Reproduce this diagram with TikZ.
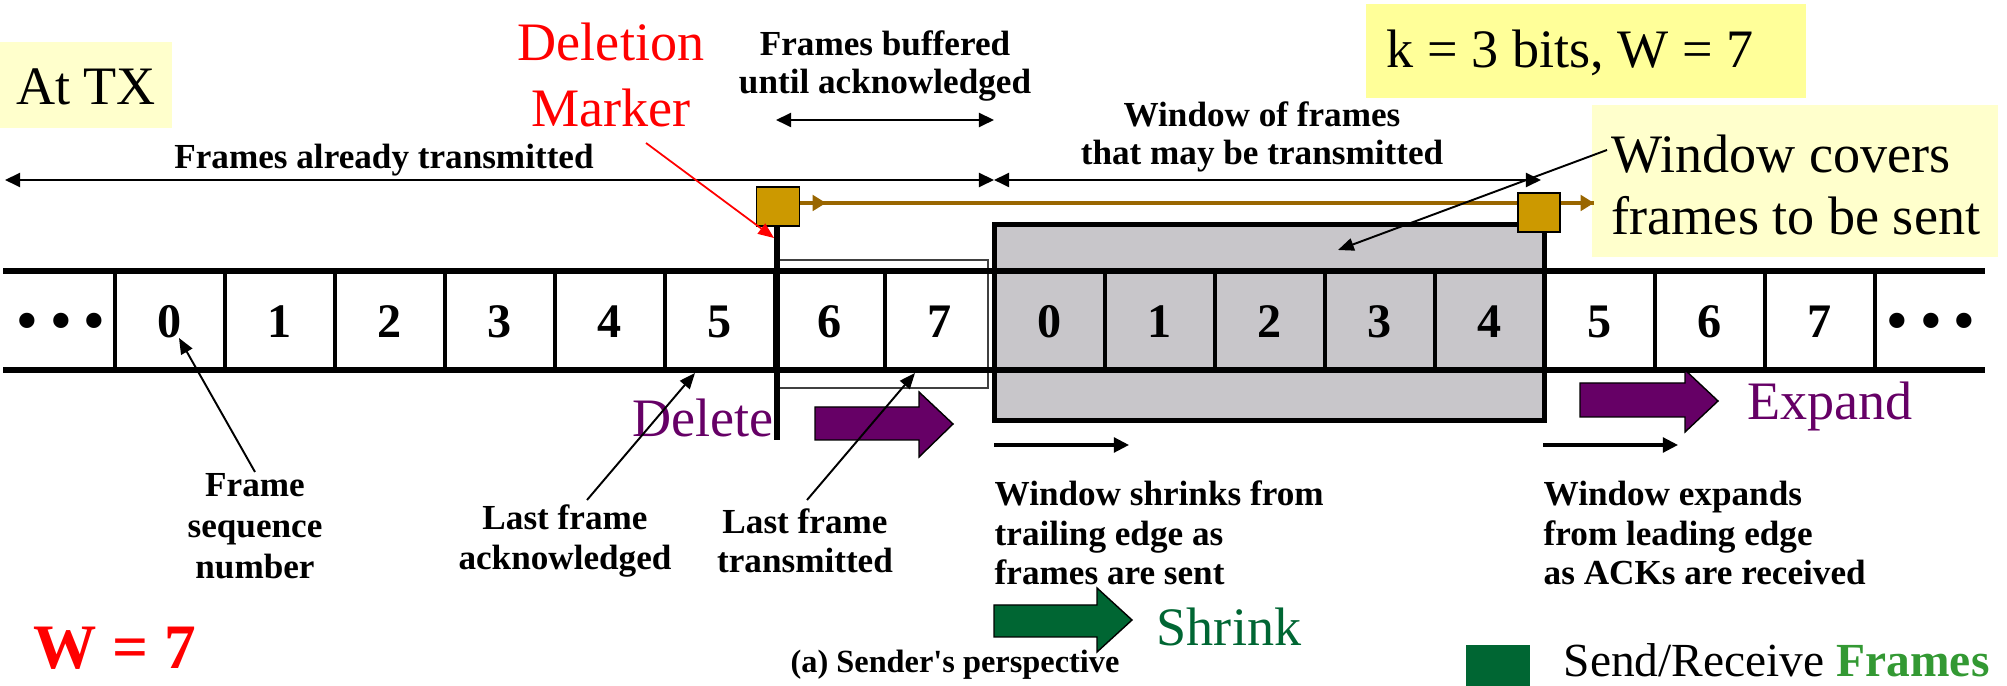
\documentclass[tikz,border=0pt]{standalone}
\usepackage{fontspec}
\setmainfont{Liberation Serif}
\usetikzlibrary{arrows.meta}
\definecolor{lyel}{HTML}{FFFFCC}
\definecolor{kyel}{HTML}{FFFF99}
\definecolor{goldsq}{HTML}{CC9900}
\definecolor{brownln}{HTML}{996600}
\definecolor{purp}{HTML}{660066}
\definecolor{dgreen}{HTML}{006633}
\definecolor{lgreen}{HTML}{339933}
\definecolor{wgray}{HTML}{C8C6CA}
\tikzset{
  bigtxt/.style={font=\fontsize{15.4}{18.5}\selectfont, inner sep=0pt},
  lbl/.style={font=\bfseries\fontsize{10}{11.2}\selectfont, align=center, inner sep=0pt},
  digit/.style={font=\bfseries\fontsize{13.7}{16}\selectfont, inner sep=0pt},
  strip/.style={line width=1.45pt},
  divider/.style={line width=0.9pt},
  tipb/.style={{Triangle[length=4.3pt,width=4pt]}-{Triangle[length=4.3pt,width=4pt]}},
  dbl/.style={line width=0.6pt, tipb},
  ptr/.style={line width=0.55pt, -{Triangle[length=4.5pt,width=3.6pt]}},
  sarr/.style={line width=0.9pt, -{Triangle[length=4.3pt,width=4.2pt]}},
  gsq/.style={draw=black, line width=0.5pt, fill=goldsq, inner sep=0pt},
  brownline/.style={draw=brownln, line width=1.4pt},
  blockarrow/.style={draw=black, line width=0.4pt},
  dotsty/.style={font=\bfseries\fontsize{16}{18}\selectfont, inner sep=0pt},
}
\begin{document}
\begin{tikzpicture}[x=0.01cm,y=-0.01cm]
\useasboundingbox (0,0) rectangle (2007,686);

% yellow boxes
\node[fill=lyel, minimum width=1.72cm, minimum height=0.86cm, inner sep=0pt] (atxbox) at (86,85) {};
\node[bigtxt] (atx) at (86,87) {At TX};
\node[fill=kyel, minimum width=4.4cm, minimum height=0.94cm, inner sep=0pt] (kbox) at (1586,51) {};
\node[bigtxt, anchor=west] (ktxt) at (1386,53) {k = 3 bits, W = 7};
\node[fill=lyel, minimum width=4.06cm, minimum height=1.52cm, inner sep=0pt] (wcbox) at (1795,181) {};
\node[bigtxt, anchor=west, align=left, font=\fontsize{15.4}{17.6}\selectfont] (wctxt) at (1611,185) {Window covers\\frames to be sent};

% window box and buffered rectangle
\node[draw, line width=1.45pt, fill=wgray, minimum width=5.5cm, minimum height=1.96cm, inner sep=0pt, anchor=north west] (win) at (992,222) {};
\node[draw=black!75, line width=0.45pt, minimum width=2.11cm, minimum height=1.28cm, inner sep=0pt, anchor=north west] (buf) at (776,259) {};

% frame strip
\draw[strip] (3,271) -- (1985,271);
\draw[strip] (3,370) -- (1985,370);
\foreach \x in {115,225,...,1875} \draw[divider] (\x,271) -- (\x,370);
\foreach \d [count=\i from 0] in {0,1,2,3,4,5,6,7,0,1,2,3,4,5,6,7}
  \node[digit] (d\i) at ({170+110*\i},322) {\d};
\node[dotsty] (dotsl) at (61,326) {•\hspace{0.14cm}•\hspace{0.14cm}•};
\node[dotsty] (dotsr) at (1931,326) {•\hspace{0.14cm}•\hspace{0.14cm}•};

% top double arrows
\coordinate (fatl) at (5,180);
\coordinate (fatr) at (994,180);
\coordinate (wfr) at (1541,180);
\coordinate (fbl) at (776,120);
\coordinate (fbr) at (994,120);
\draw[dbl] (fatl) -- (fatr);
\draw[dbl] (fatr) -- (wfr);
\draw[dbl] (fbl) -- (fbr);
\node[lbl] (fat) at (384,160) {Frames already transmitted};
\node[lbl, font=\bfseries\fontsize{10}{10.8}\selectfont] (fbt) at (885,66) {Frames buffered\\until acknowledged};
\node[lbl, font=\bfseries\fontsize{10}{10.6}\selectfont] (wft) at (1262,137) {Window of frames\\that may be transmitted};

% brown line and gold squares
\coordinate (brend) at (1594,203);
\coordinate (brmid) at (826,203);
\draw[brownline] (800,203) -- (brend);
\draw[brownline, -{Triangle[length=3.8pt,width=4.4pt]}] (800,203) -- (brmid);
\draw[brownline, -{Triangle[length=3.8pt,width=4.4pt]}] (1560,203) -- (brend);
\node[gsq, minimum width=0.43cm, minimum height=0.39cm] (lsq) at (778,206.5) {};
\node[gsq, minimum width=0.42cm, minimum height=0.39cm] (rsq) at (1539,212.5) {};

% deletion marker
\coordinate (mkbot) at (777,440);
\draw[line width=1.7pt] (lsq.south -| mkbot) -- (mkbot);
\node[bigtxt, text=red, align=center, font=\fontsize{15.4}{18.5}\selectfont] (dm) at (611,75) {Deletion\\Marker};
\coordinate (dmp) at (646,143);
\coordinate (dmt) at (774,238);
\draw[red, line width=0.5pt, -{Triangle[length=4.5pt,width=3.6pt]}] (dmp) -- (dmt);

% window covers pointer
\coordinate (wcp) at (1607,150);
\coordinate (wct) at (1338,250);
\draw[ptr] (wcp) -- (wct);

% block arrows
\draw[blockarrow, fill=purp] (815,407) -- (919,407) -- (919,392) -- (953,424) -- (919,457) -- (919,440) -- (815,440) -- cycle;
\draw[blockarrow, fill=purp] (1580,383) -- (1685,383) -- (1685,370) -- (1718,401) -- (1685,432) -- (1685,417) -- (1580,417) -- cycle;
\draw[blockarrow, fill=dgreen] (994,605) -- (1097,605) -- (1097,588) -- (1132,620) -- (1097,652) -- (1097,637) -- (994,637) -- cycle;
\node[bigtxt, text=purp] (del) at (703,418) {Delete};
\node[bigtxt, text=purp] (exp) at (1830,406) {Expand};
\node[bigtxt, text=dgreen] (shr) at (1229,627) {Shrink};

% small arrows under window
\coordinate (s1a) at (994,445);
\coordinate (s1b) at (1129,445);
\coordinate (s2a) at (1543,445);
\coordinate (s2b) at (1678,445);
\draw[sarr] (s1a) -- (s1b);
\draw[sarr] (s2a) -- (s2b);

% bottom labels
\node[lbl, font=\bfseries\fontsize{10}{11.6}\selectfont] (fsn) at (255,526) {Frame\\sequence\\number};
\node[lbl] (lfa) at (565,541) {Last frame\\acknowledged};
\node[lbl] (lft) at (805,541) {Last frame\\transmitted};
\node[lbl, align=left, anchor=west] (wsh) at (994,533) {Window shrinks from\\trailing edge as\\frames are sent};
\node[lbl, align=left, anchor=west] (wex) at (1543,533) {Window expands\\from leading edge\\as ACKs are received};
\node[lbl, font=\bfseries\fontsize{9.2}{11}\selectfont] (cap) at (955,665) {(a) Sender\textquotesingle s perspective};

% pointers from labels
\coordinate (fsnp) at (255,472);
\coordinate (fsnt) at (179,338);
\coordinate (lfap) at (587,500);
\coordinate (lfat) at (695,373);
\coordinate (lftp) at (807,500);
\coordinate (lftt) at (915,373);
\draw[ptr] (fsnp) -- (fsnt);
\draw[ptr] (lfap) -- (lfat);
\draw[ptr] (lftp) -- (lftt);

% W = 7 and legend
\node[text=red, font=\bfseries\fontsize{18}{20}\selectfont, inner sep=0pt] (w7) at (115,648) {W = 7};
\node[fill=dgreen, minimum width=0.64cm, minimum height=0.42cm, inner sep=0pt, anchor=north west] (leg) at (1465,644) {};
\node[bigtxt, anchor=west, font=\fontsize{13.5}{15}\selectfont] (legt) at (1563,660) {Send/Receive \textcolor{lgreen}{\bfseries Frames}};
\end{tikzpicture}
\end{document}
